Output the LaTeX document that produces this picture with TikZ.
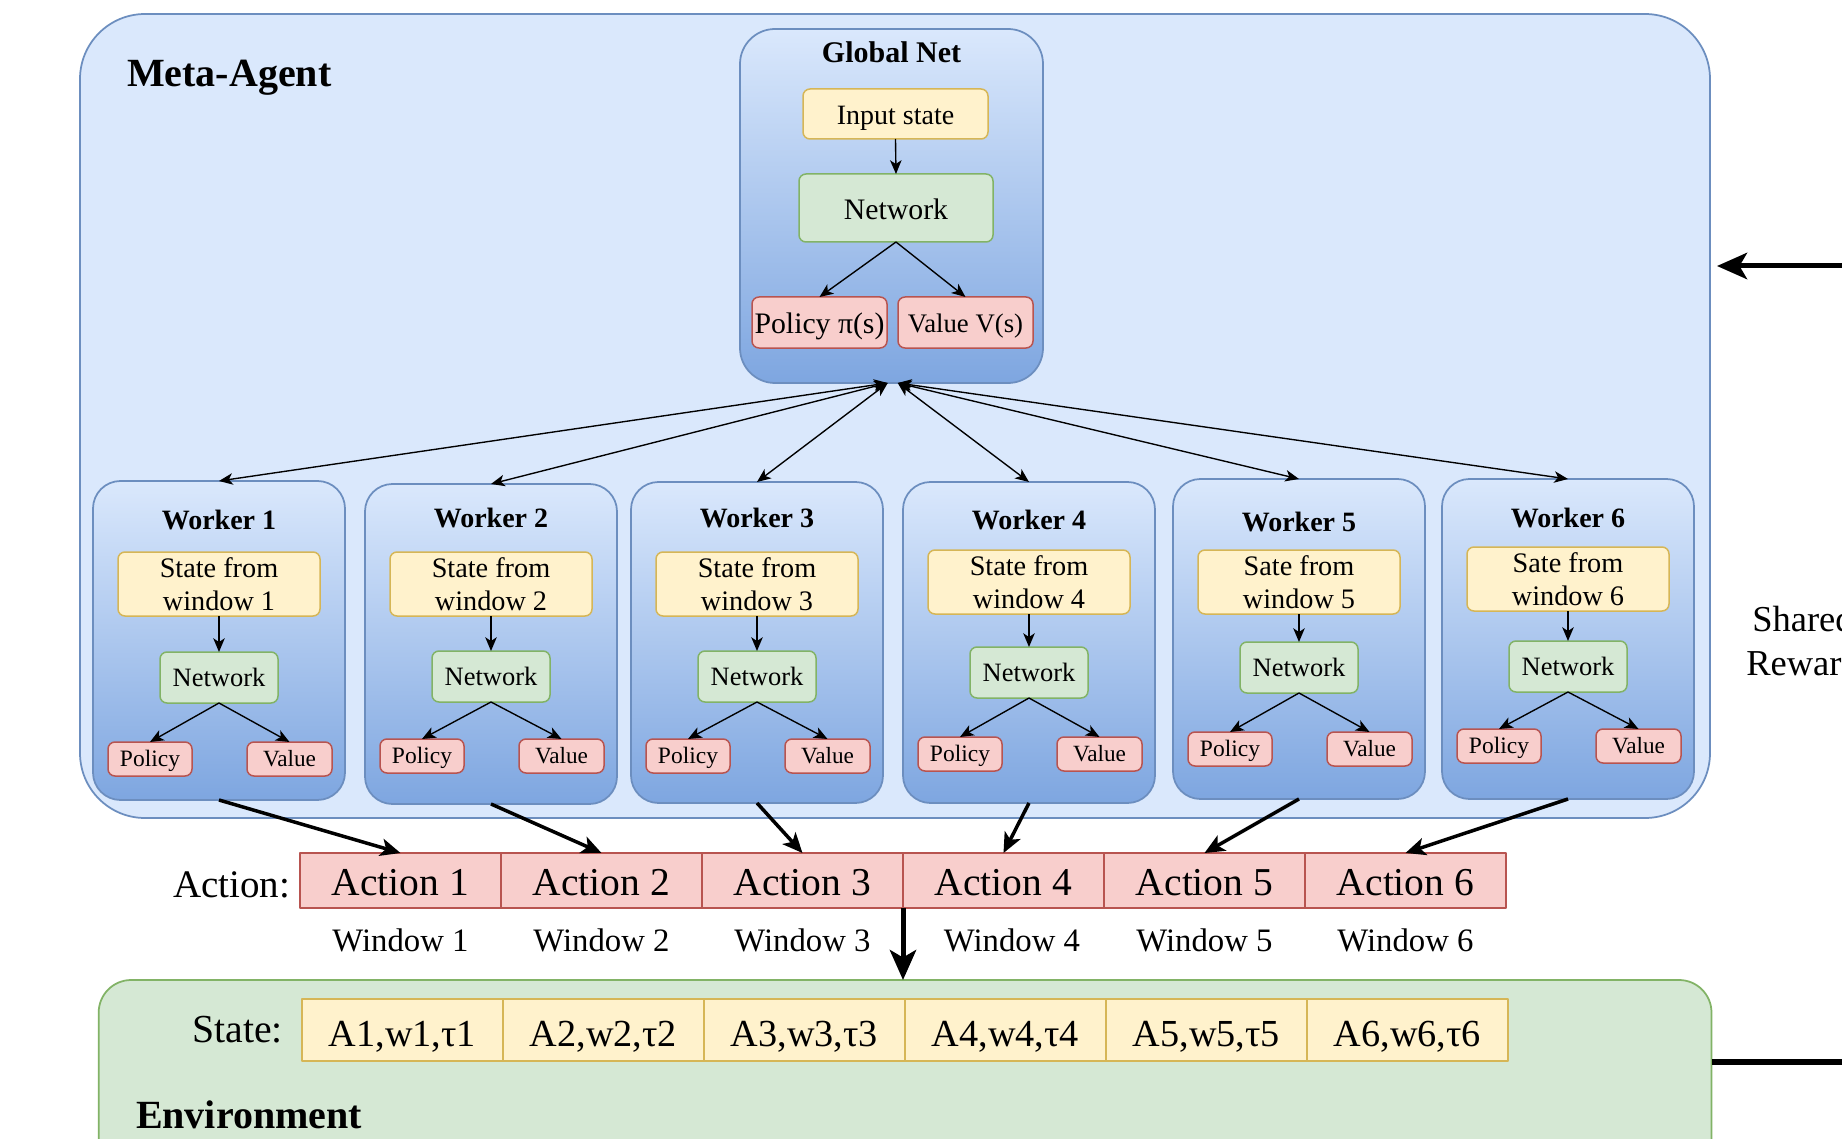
\documentclass[tikz,border=0pt]{standalone}
\usepackage{fontspec}
\setmainfont{Liberation Serif}
\usetikzlibrary{arrows.meta,calc}
\definecolor{bluefill}{HTML}{DAE8FC}
\definecolor{bluestroke}{HTML}{6C8EBF}
\definecolor{bluedark}{HTML}{7EA6E0}
\definecolor{yfill}{HTML}{FFF2CC}
\definecolor{ystroke}{HTML}{D6B656}
\definecolor{gfill}{HTML}{D5E8D4}
\definecolor{gstroke}{HTML}{82B366}
\definecolor{rfill}{HTML}{F8CECC}
\definecolor{rstroke}{HTML}{B85450}
\newcommand\fs[2]{\fontsize{#1}{#2}\selectfont}
\tikzset{
 every node/.style={inner sep=0pt, outer sep=0pt},
 area/.style n args={4}{minimum width={((#3)-(#1))*0.4pt}, minimum height={((#4)-(#2))*0.4pt}, at={({((#1)+(#3))/2},{((#2)+(#4))/2})}},
 metabox/.style={draw=bluestroke, fill=bluefill, line width=0.7pt, rounded corners=26pt},
 panel/.style={draw=bluestroke, top color=bluefill, bottom color=bluedark, line width=0.7pt, rounded corners=11pt},
 ybox/.style={draw=ystroke, fill=yfill, line width=0.6pt, rounded corners=2.8pt, align=center},
 gbox/.style={draw=gstroke, fill=gfill, line width=0.6pt, rounded corners=2.8pt, align=center},
 rbox/.style={draw=rstroke, fill=rfill, line width=0.6pt, rounded corners=2.8pt, align=center},
 ycell/.style={draw=ystroke, fill=yfill, line width=0.7pt},
 rcell/.style={draw=rstroke, fill=rfill, line width=0.7pt},
 envbox/.style={draw=gstroke, fill=gfill, line width=0.7pt, rounded corners=13pt},
 capc/.style={text height=#1, text depth=0pt},
 thinarr/.style={line width=0.55pt, -{Stealth[length=5.5pt,width=4.6pt,inset=1.5pt]}},
 duoarr/.style={line width=0.55pt, {Stealth[length=5.5pt,width=4.6pt,inset=1.5pt]}-{Stealth[length=5.5pt,width=4.6pt,inset=1.5pt]}},
 actarr/.style={line width=1.4pt, -{Stealth[length=8pt,width=7pt,inset=2pt]}},
 bigarr/.style={line width=2pt, -{Stealth[length=12pt,width=10.5pt,inset=3pt]}},
}
\begin{document}
\begin{tikzpicture}[x=0.4pt, y=-0.4pt, line join=round]
\useasboundingbox (0,0) rectangle (1842,1139);
\clip (0,0) rectangle (1842,1139);
\fill[white] (0,0) rectangle (1842,1139);

% Meta-Agent
\node[metabox, area={80}{14}{1710}{818}] (meta) {};
\node[font=\bfseries\fs{16pt}{19pt}, anchor=base west] (matitle) at (127,87) {Meta-Agent};

% Global Net
\node[panel, rounded corners=14pt, area={740}{29}{1043}{383}] (gn) {};
\node[font=\bfseries\fs{12pt}{14pt}, anchor=base] (gntitle) at (891.5,63) {Global Net};
\node[ybox, area={803}{89}{988}{139}, font=\fs{11.2pt}{13pt}, capc=8.2pt] (gin) {Input state};
\node[gbox, area={799}{174}{993}{242}, font=\fs{11.9pt}{14pt}, capc=9.3pt] (gnet) {Network};
\node[rbox, area={752}{297}{887}{348}, font=\fs{11.9pt}{14pt}, capc=9.1pt] (gpol) {Policy π(s)};
\node[rbox, area={898}{297}{1033}{348}, font=\fs{10.7pt}{13pt}, capc=8.2pt] (gval) {Value V(s)};
\draw[thinarr] (gin.south) -- (gnet.north);
\draw[thinarr] (gnet.south) -- (gpol.north);
\draw[thinarr] (gnet.south) -- (gval.north);

% Workers
\foreach \wn/\wx/\wt/\wb/\ws/\wnt/\wp/\wtb/\wsw in {1/219/481/800/552/652/742/529/State, 2/491/484/804/552/651/739/527/State, 3/757/482/803/552/651/739/527/State, 4/1029/482/803/550/647/737/529/State, 5/1299/479/799/550/642/732/531/Sate, 6/1568/479/799/547/641/729/527/Sate}{
  \node[panel, area={\wx-126}{\wt}{\wx+126}{\wb}] (w\wn) {};
  \node[font=\bfseries\fs{11.2pt}{13pt}, anchor=base] (wt\wn) at (\wx,\wtb) {Worker \wn};
  \node[ybox, area={\wx-101}{\ws}{\wx+101}{\ws+64}, font=\fs{11.3pt}{13.3pt}] (ws\wn) {\wsw{} from\\window \wn};
  \node[gbox, area={\wx-59}{\wnt}{\wx+59}{\wnt+51}, font=\fs{10.6pt}{12pt}, capc=7pt] (wn\wn) {Network};
  \node[rbox, area={\wx-111}{\wp}{\wx-27}{\wp+34}, font=\fs{9.4pt}{11pt}, capc=6.2pt] (wp\wn) {Policy};
  \node[rbox, area={\wx+28}{\wp}{\wx+113}{\wp+34}, font=\fs{9.3pt}{11pt}, capc=6.1pt] (wv\wn) {Value};
  \draw[thinarr] (ws\wn.south) -- (wn\wn.north);
  \draw[thinarr] (wn\wn.south) -- (wp\wn.north);
  \draw[thinarr] (wn\wn.south) -- (wv\wn.north);
}
\foreach \wn in {1,2,3}{
  \draw[duoarr] (w\wn.north) -- ([xshift=-1.5pt]gn.south);
}
\foreach \wn in {4,5,6}{
  \draw[duoarr] (w\wn.north) -- ([xshift=2.5pt]gn.south);
}

% Action row
\node[font=\fs{15.6pt}{18pt}, anchor=base east] (actlbl) at (290,897) {Action:};
\foreach \n in {1,...,6}{
  \node[rcell, area={300+201*(\n-1)}{853}{501+201*(\n-1)}{908}, font=\fs{15.8pt}{18pt}, capc=12.2pt] (a\n) {Action \n};
}
\foreach \n/\xx in {1/400.5, 2/601.5, 3/802.5, 4/1012, 5/1204.5, 6/1405.5}{
  \node[font=\fs{13.1pt}{15pt}, anchor=base] (win\n) at (\xx,951) {Window \n};
}
\foreach \n in {1,...,6}{
  \draw[actarr] (w\n.south) -- (a\n.north);
}

% Environment
\node[envbox, area={98.7}{980}{1711.5}{1220}] (env) {};
\node[font=\fs{15.9pt}{18pt}, anchor=base east] (stlbl) at (283,1042) {State:};
\foreach \n in {1,...,6}{
  \node[ycell, area={302+201*(\n-1)}{999}{503+201*(\n-1)}{1061}, font=\fs{15.3pt}{18pt}, capc=13.4pt] (s\n) {A\n,w\n,τ\n};
}
\node[font=\bfseries\fs{16pt}{19pt}, anchor=base west] (envlbl) at (136,1128) {Environment};

\draw[bigarr] (a3.south east) -- (a3.south east |- env.north);

% Shared reward loop
\node[font=\fs{14.6pt}{17.6pt}, align=center] (sr) at (1803,641) {Shared\\Reward};
\coordinate (rt) at (1860,266);
\coordinate (rb) at (1860,1062);
\draw[bigarr, shorten >=2.8pt] (rt) -- (rt -| meta.east);
\draw[line width=2.3pt] (rb) -- (rb -| env.east);
\end{tikzpicture}
\end{document}
